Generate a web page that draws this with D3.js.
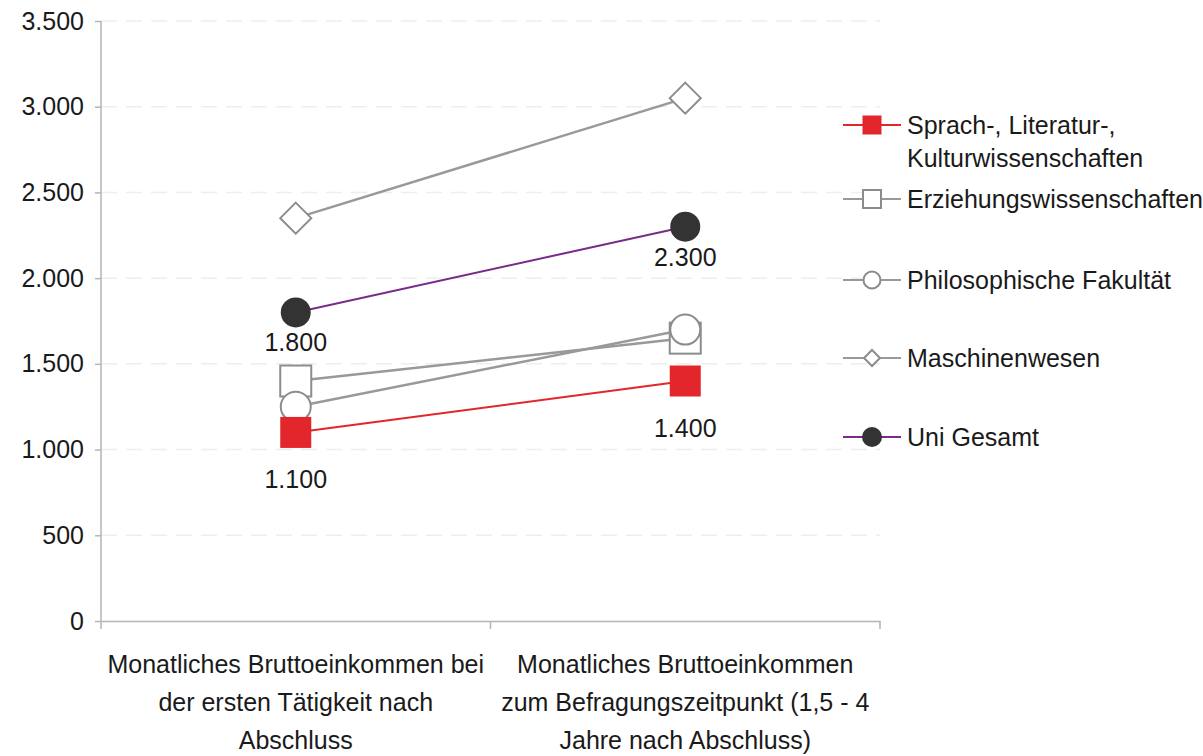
<!DOCTYPE html>
<html>
<head>
<meta charset="utf-8">
<script src="https://cdn.jsdelivr.net/npm/d3@7"></script>
<style>
  body { margin: 0; background: #fff; }
  svg { display: block; font-family: "Liberation Sans", Arial, sans-serif; }
</style>
</head>
<body>
<svg id="chart" width="1203" height="756"></svg>
<script>
// categories on the x axis (each label split into lines)
const categories = ["erste", "befragung"];
const categoryLabels = [
  ["Monatliches Bruttoeinkommen bei", "der ersten Tätigkeit nach", "Abschluss"],
  ["Monatliches Bruttoeinkommen", "zum Befragungszeitpunkt (1,5 - 4", "Jahre nach Abschluss)"]
];

// series values (EUR per month)
const sprach = [1100, 1400];
const erziehung = [1400, 1650];
const philosophie = [1250, 1700];
const maschinen = [2350, 3050];
const uniGesamt = [1800, 2300];

const yTicks = [0, 500, 1000, 1500, 2000, 2500, 3000, 3500];

const series = [
  { name: ["Sprach-, Literatur-,", "Kulturwissenschaften"], values: sprach, line: "#e3262b", marker: "square", fill: "#e3262b", stroke: "none", labels: true, offset: 56 },
  { name: ["Erziehungswissenschaften"], values: erziehung, line: "#999", marker: "square", fill: "#fff", stroke: "#8c8c8c", labels: false },
  { name: ["Philosophische Fakultät"], values: philosophie, line: "#999", marker: "circle", fill: "#fff", stroke: "#8c8c8c", labels: false },
  { name: ["Maschinenwesen"], values: maschinen, line: "#999", marker: "diamond", fill: "#fff", stroke: "#8c8c8c", labels: false },
  { name: ["Uni Gesamt"], values: uniGesamt, line: "#7a2a8a", marker: "circle", fill: "#333", stroke: "none", labels: true, offset: 39 }
];

const svg = d3.select("#chart");
const plot = { left: 101, right: 880, top: 21, bottom: 621 };
const fontSize = 25;

//scales
const x = d3.scaleBand().domain(categories).range([plot.left, plot.right]).padding(0);
const y = d3.scaleLinear().domain([0, 3500]).range([plot.bottom, plot.top]);
const fmt = d3.formatLocale({ decimal: ",", thousands: ".", grouping: [3], currency: ["", "€"] }).format(",");

//faint dashed grid
svg.append("g")
  .selectAll("line")
  .data(yTicks.filter(d => d > 0))
  .join("line")
  .attr("x1", plot.left)
  .attr("x2", plot.right)
  .attr("y1", d => y(d))
  .attr("y2", d => y(d))
  .attr("stroke", "#eeeeee")
  .attr("stroke-width", 1.5)
  .attr("stroke-dasharray", "16,9");

//y axis
const yAxis = svg.append("g")
  .attr("transform", `translate(${plot.left},0)`)
  .call(d3.axisLeft(y).tickValues(yTicks).tickSize(6).tickSizeOuter(0).tickPadding(11).tickFormat(fmt));
yAxis.select(".domain").attr("stroke", "#b5b5b5").attr("stroke-width", 1.5).attr("d", `M0,${plot.top}V${plot.bottom + 8}`);
yAxis.selectAll(".tick line").attr("stroke", "#b5b5b5").attr("stroke-width", 1.5);
yAxis.selectAll(".tick text").attr("font-size", fontSize).attr("fill", "#1a1a1a").attr("font-family", "Liberation Sans, Arial, sans-serif");

//x axis
const xAxis = svg.append("g")
  .attr("transform", `translate(0,${plot.bottom})`)
  .call(d3.axisBottom(x).tickSize(0).tickSizeOuter(0).tickFormat(""));
xAxis.select(".domain").attr("stroke", "#b5b5b5").attr("stroke-width", 1.5);
xAxis.selectAll(".tick").remove();
//category separators
svg.append("g")
  .selectAll("line")
  .data([x(categories[1]), plot.right])
  .join("line")
  .attr("x1", d => d).attr("x2", d => d)
  .attr("y1", plot.bottom).attr("y2", plot.bottom + 8)
  .attr("stroke", "#b5b5b5").attr("stroke-width", 1.5);

//category labels
svg.append("g")
  .selectAll("text")
  .data(categories)
  .join("text")
  .attr("x", d => x(d) + x.bandwidth() / 2)
  .attr("y", 673)
  .attr("text-anchor", "middle")
  .attr("font-size", fontSize)
  .attr("fill", "#1a1a1a")
  .each(function(d, i) {
    d3.select(this).selectAll("tspan")
      .data(categoryLabels[i])
      .join("tspan")
      .attr("x", x(d) + x.bandwidth() / 2)
      .attr("dy", (t, j) => j === 0 ? 0 : 38)
      .text(t => t);
  });

//marker drawing
function drawMarker(g, s, cx, cy, size) {
  const sw = s.stroke === "none" ? 0 : 2;
  if (s.marker === "square") {
    g.append("rect")
      .attr("x", cx - size / 2).attr("y", cy - size / 2)
      .attr("width", size).attr("height", size)
      .attr("fill", s.fill).attr("stroke", s.stroke).attr("stroke-width", sw);
  } else if (s.marker === "circle") {
    g.append("circle")
      .attr("cx", cx).attr("cy", cy).attr("r", size / 2)
      .attr("fill", s.fill).attr("stroke", s.stroke).attr("stroke-width", sw);
  } else {
    const h = size / 2;
    g.append("path")
      .attr("d", `M${cx},${cy - h}L${cx + h},${cy}L${cx},${cy + h}L${cx - h},${cy}Z`)
      .attr("fill", s.fill).attr("stroke", s.stroke).attr("stroke-width", sw);
  }
}

const line = d3.line().x((d, i) => x(categories[i]) + x.bandwidth() / 2).y(d => y(d));

//draw series (gesamt last so it sits on top like the original)
const order = [3, 1, 2, 0, 4];
order.forEach(k => {
  const s = series[k];
  const g = svg.append("g");
  g.append("path")
    .attr("d", line(s.values))
    .attr("fill", "none")
    .attr("stroke", s.line)
    .attr("stroke-width", s.line === "#999" ? 2.5 : 2);
  s.values.forEach((v, i) => {
    const cx = x(categories[i]) + x.bandwidth() / 2;
    drawMarker(g, s, cx, y(v), s.marker === "circle" ? 30 : 31);
    if (s.labels) {
      g.append("text")
        .attr("x", cx)
        .attr("y", y(v) + s.offset)
        .attr("text-anchor", "middle")
        .attr("font-size", fontSize)
        .attr("fill", "#1a1a1a")
        .text(fmt(v));
    }
  });
});

//legend
const legendRows = [125, 199, 280, 358, 437];
const legendSize = [19, 18, 17, 16, 20];
const legend = svg.append("g");
series.forEach((s, i) => {
  const ly = legendRows[i];
  const g = legend.append("g");
  g.append("line")
    .attr("x1", 843).attr("x2", 901)
    .attr("y1", ly).attr("y2", ly)
    .attr("stroke", s.line).attr("stroke-width", 2);
  drawMarker(g, s, 872, ly, legendSize[i]);
  const t = g.append("text")
    .attr("x", 907)
    .attr("y", ly + 9)
    .attr("font-size", fontSize)
    .attr("fill", "#1a1a1a");
  t.selectAll("tspan")
    .data(s.name)
    .join("tspan")
    .attr("x", 907)
    .attr("dy", (d, j) => j === 0 ? 0 : 33)
    .text(d => d);
});
</script>
</body>
</html>
